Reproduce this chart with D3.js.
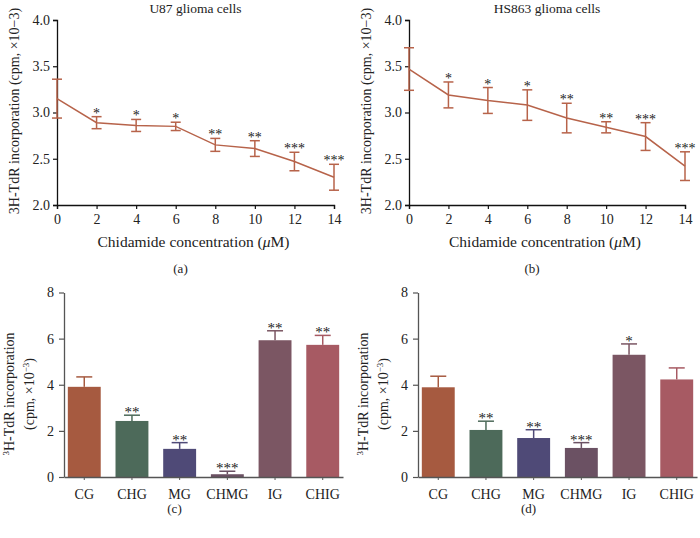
<!DOCTYPE html>
<html>
<head>
<meta charset="utf-8">
<script src="https://cdn.jsdelivr.net/npm/d3@7"></script>
<style>
  body { margin: 0; background: #fff; }
  text { font-family: "Liberation Serif", "DejaVu Serif", serif; fill: #222; }
</style>
</head>
<body>
<div id="chart"></div>
<script>
// line charts (a) and (b)
var conc = [0, 2, 4, 6, 8, 10, 12, 14];
var u87Mean = [3.15, 2.89, 2.86, 2.85, 2.65, 2.61, 2.47, 2.30];
var u87Err = [0.21, 0.065, 0.065, 0.045, 0.07, 0.085, 0.10, 0.14];
var u87Stars = ['', '*', '*', '*', '**', '**', '***', '***'];
var hsMean = [3.47, 3.19, 3.13, 3.08, 2.94, 2.84, 2.74, 2.42];
var hsErr = [0.23, 0.14, 0.14, 0.165, 0.16, 0.06, 0.15, 0.155];
var hsStars = ['', '*', '*', '*', '**', '**', '***', '***'];
var lineTicks = [2.0, 2.5, 3.0, 3.5, 4.0];

// bar charts (c) and (d)
var groups = ['CG', 'CHG', 'MG', 'CHMG', 'IG', 'CHIG'];
var barColors = ['#a65a40', '#4d6a5a', '#4f4a77', '#6b5163', '#7b5663', '#a75a63'];
var cMean = [3.91, 2.43, 1.22, 0.12, 5.93, 5.73];
var cErr = [0.43, 0.25, 0.27, 0.13, 0.41, 0.41];
var cStars = ['', '**', '**', '***', '**', '**'];
var dMean = [3.89, 2.04, 1.69, 1.26, 5.30, 4.23];
var dErr = [0.48, 0.38, 0.36, 0.23, 0.47, 0.50];
var dStars = ['', '**', '**', '***', '*', ''];
var barTicks = [0, 2, 4, 6, 8];

var svg = d3.select("#chart").append("svg")
  .attr("width", 700)
  .attr("height", 538);

var lineColor = '#b7634a';

function linePanel(x0, x1, title, mean, err, stars, letter) {
  var x = d3.scaleLinear().domain([0, 14]).range([x0, x1]);
  var y = d3.scaleLinear().domain([2, 4]).range([205, 20]);
  var g = svg.append("g");

  g.append("g")
    .attr("transform", "translate(0,205)")
    .call(d3.axisBottom(x).tickValues(conc).tickSize(4).tickPadding(5).tickFormat(d3.format("d")))
    .call(function(a) {
      a.select(".domain").attr("stroke", "#111").attr("stroke-width", 1.3);
      a.selectAll(".tick line").attr("stroke", "#111").attr("stroke-width", 1.2);
      a.selectAll("text").style("font-size", "14px").attr("fill", "#222");
    });

  g.append("g")
    .attr("transform", "translate(" + x0 + ",0)")
    .call(d3.axisLeft(y).tickValues(lineTicks).tickSize(4).tickPadding(3).tickFormat(d3.format(".1f")))
    .call(function(a) {
      a.select(".domain").attr("stroke", "#111").attr("stroke-width", 1.3);
      a.selectAll(".tick line").attr("stroke", "#111").attr("stroke-width", 1.2);
      a.selectAll("text").style("font-size", "14px").attr("fill", "#222");
    });

  var pts = conc.map(function(c, i) { return {c: c, m: mean[i], e: err[i], s: stars[i]}; });

  g.append("path")
    .datum(pts)
    .attr("fill", "none")
    .attr("stroke", lineColor)
    .attr("stroke-width", 1.5)
    .attr("d", d3.line().x(function(d) { return x(d.c); }).y(function(d) { return y(d.m); }));

  var eb = g.selectAll(".eb").data(pts).enter().append("g");
  eb.append("line")
    .attr("x1", function(d) { return x(d.c); })
    .attr("x2", function(d) { return x(d.c); })
    .attr("y1", function(d) { return y(d.m + d.e); })
    .attr("y2", function(d) { return y(d.m - d.e); })
    .attr("stroke", lineColor).attr("stroke-width", 1.5);
  [1, -1].forEach(function(sgn) {
    eb.append("line")
      .attr("x1", function(d) { return x(d.c) - 5; })
      .attr("x2", function(d) { return x(d.c) + 5; })
      .attr("y1", function(d) { return y(d.m + sgn * d.e); })
      .attr("y2", function(d) { return y(d.m + sgn * d.e); })
      .attr("stroke", lineColor).attr("stroke-width", 1.5);
  });
  eb.append("text")
    .attr("x", function(d) { return x(d.c); })
    .attr("y", function(d) { return y(d.m + d.e) + 1; })
    .attr("text-anchor", "middle")
    .style("font-size", "14px")
    .text(function(d) { return d.s; });

  var cx = (x0 + x1) / 2;
  g.append("text").attr("x", cx).attr("y", 13).attr("text-anchor", "middle")
    .style("font-size", "13.5px").text(title);
  g.append("text").attr("x", cx - 2).attr("y", 247).attr("text-anchor", "middle")
    .style("font-size", "15.5px")
    .html('Chidamide concentration (<tspan font-style="italic">μ</tspan>M)');
  g.append("text")
    .attr("transform", "translate(" + (x0 - 38) + ",111) rotate(-90)")
    .attr("text-anchor", "middle")
    .style("font-size", "14px")
    .text("3H-TdR incorporation (cpm, ×10−3)");
  g.append("text").attr("x", cx - 15).attr("y", 273).attr("text-anchor", "middle")
    .style("font-size", "13px").text(letter);
}

function barPanel(x0, x1, mean, err, stars, letter) {
  var x = d3.scaleBand().domain(groups).range([x0, x1]).paddingInner(0.31).paddingOuter(0.08);
  var y = d3.scaleLinear().domain([0, 8]).range([477, 292.5]);
  var g = svg.append("g");
  var data = groups.map(function(k, i) { return {k: k, m: mean[i], e: err[i], s: stars[i], c: barColors[i]}; });

  g.selectAll(".bar").data(data).enter().append("rect")
    .attr("x", function(d) { return x(d.k); })
    .attr("y", function(d) { return y(d.m); })
    .attr("width", x.bandwidth())
    .attr("height", function(d) { return y(0) - y(d.m); })
    .attr("fill", function(d) { return d.c; });

  var eb = g.selectAll(".eb").data(data).enter().append("g");
  eb.append("line")
    .attr("x1", function(d) { return x(d.k) + x.bandwidth() / 2; })
    .attr("x2", function(d) { return x(d.k) + x.bandwidth() / 2; })
    .attr("y1", function(d) { return y(d.m); })
    .attr("y2", function(d) { return y(d.m + d.e); })
    .attr("stroke", function(d) { return d.c; }).attr("stroke-width", 1.5);
  eb.append("line")
    .attr("x1", function(d) { return x(d.k) + x.bandwidth() / 2 - 8; })
    .attr("x2", function(d) { return x(d.k) + x.bandwidth() / 2 + 8; })
    .attr("y1", function(d) { return y(d.m + d.e); })
    .attr("y2", function(d) { return y(d.m + d.e); })
    .attr("stroke", function(d) { return d.c; }).attr("stroke-width", 1.5);
  eb.append("text")
    .attr("x", function(d) { return x(d.k) + x.bandwidth() / 2; })
    .attr("y", function(d) { return y(d.m + d.e) + 2; })
    .attr("text-anchor", "middle")
    .style("font-size", "15px")
    .text(function(d) { return d.s; });

  g.append("g")
    .attr("transform", "translate(0,477)")
    .call(d3.axisBottom(x).tickSize(3).tickPadding(9).tickSizeOuter(0))
    .call(function(a) {
      a.select(".domain").attr("stroke", "#555").attr("stroke-width", 1.3);
      a.selectAll(".tick line").attr("stroke", "#555");
      a.selectAll("text").style("font-size", "14px").attr("fill", "#222");
    });
  g.append("g")
    .attr("transform", "translate(" + x0 + ",0)")
    .call(d3.axisLeft(y).tickValues(barTicks).tickSize(5).tickPadding(5).tickSizeOuter(0))
    .call(function(a) {
      a.select(".domain").attr("stroke", "#555").attr("stroke-width", 1.3);
      a.selectAll(".tick line").attr("stroke", "#555").attr("stroke-width", 1.2);
      a.selectAll("text").style("font-size", "14px").attr("fill", "#222");
    });

  var ly = 394;
  g.append("text")
    .attr("transform", "translate(" + (x0 - 50) + "," + ly + ") rotate(-90)")
    .attr("text-anchor", "middle")
    .style("font-size", "14px")
    .html('<tspan dy="-5" font-size="9px">3</tspan><tspan dy="5">H-TdR incorporation</tspan>');
  g.append("text")
    .attr("transform", "translate(" + (x0 - 30) + "," + ly + ") rotate(-90)")
    .attr("text-anchor", "middle")
    .style("font-size", "14px")
    .html('(cpm, ×10<tspan dy="-5" font-size="9px">−3</tspan><tspan dy="5">)</tspan>');
  g.append("text").attr("x", (x0 + x1) / 2 - 29).attr("y", 513).attr("text-anchor", "middle")
    .style("font-size", "13px").text(letter);
}

linePanel(57, 334, "U87 glioma cells", u87Mean, u87Err, u87Stars, "(a)");
linePanel(409, 685, "HS863 glioma cells", hsMean, hsErr, hsStars, "(b)");
barPanel(64, 343, cMean, cErr, cStars, "(c)");
barPanel(418, 697, dMean, dErr, dStars, "(d)");
</script>
</body>
</html>
